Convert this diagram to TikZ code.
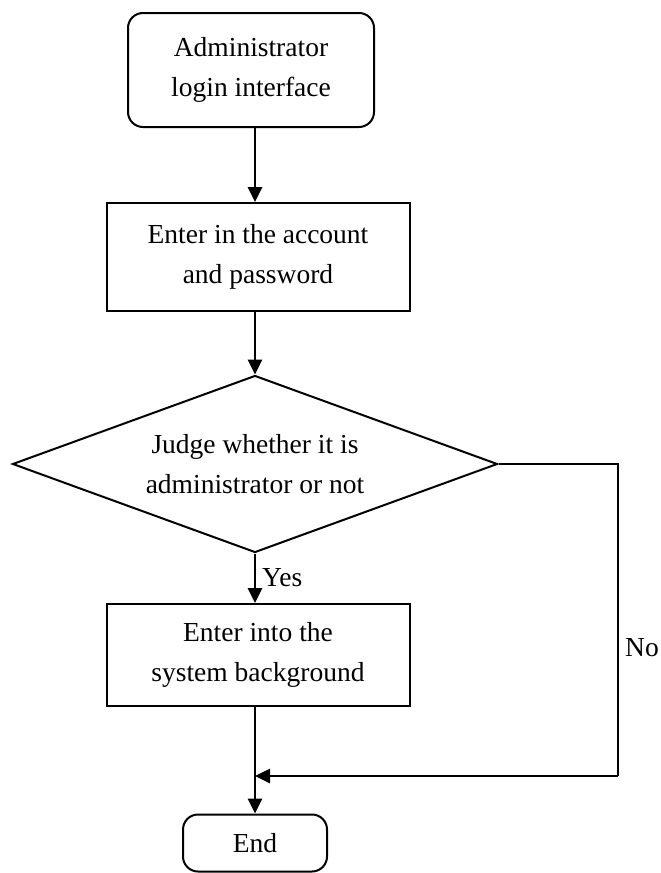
\documentclass[tikz,border=0pt]{standalone}
\usepackage{fontspec}
\setmainfont{Liberation Serif}
\usepackage{tikz}
\usetikzlibrary{shapes.geometric}
\usetikzlibrary{arrows.meta}

\tikzset{
	box/.style = {draw, line width = 2pt, align = center, inner sep = 0pt},
	roundbox/.style = {box, rounded corners = 15pt},
	decision/.style = {draw, line width = 2pt, diamond, aspect = 2.74, align = center, inner sep = 0pt},
	flow/.style = {line width = 2.6pt, -{Triangle[length = 15pt, width = 14pt]}}
}

\begin{document}
\begin{tikzpicture}[x = 1pt, y = -1pt, font = \fontsize{27.5}{40}\selectfont]
		\useasboundingbox (0,0) rectangle (661,873);
		% Start
		\node [roundbox, minimum width = 246pt, minimum height = 114pt] (login) at (251,70) {Administrator\\ login interface};
		% Account and password
		\node [box, minimum width = 303pt, minimum height = 108pt] (account) at (258,257) {Enter in the account\\ and password};
		% Check
		\node [decision, minimum width = 485pt, minimum height = 177pt] (judge) at (255,464) {Judge whether it is\\ administrator or not};
		% Background
		\node [box, minimum width = 303pt, minimum height = 102pt] (system) at (258,655) {Enter into the\\ system background};
		% End
		\node [roundbox, minimum width = 144pt, minimum height = 57pt] (finish) at (255,843) {End};
		% Main line
		\draw [flow] (login.south -| judge.north) -- (account.north -| judge.north);
		\draw [flow] (account.south -| judge.north) -- (judge.north);
		\draw [flow] (judge.south) -- (system.north -| judge.south);
		\draw [flow] (system.south -| judge.south) -- (finish.north -| judge.south);
		\node [anchor = west, inner sep = 0pt] (yes) at (262,578) {Yes};
		% No branch
		\coordinate (corner) at (618,464);
		\coordinate (merge) at (judge.south |- 0,776);
		\draw [line width = 2.2pt] (judge.east) -- (corner) -- (corner |- merge);
		\draw [flow] (corner |- merge) -- (merge);
		\node [anchor = west, inner sep = 0pt] (no) at (625,648) {No};
\end{tikzpicture}
\end{document}
